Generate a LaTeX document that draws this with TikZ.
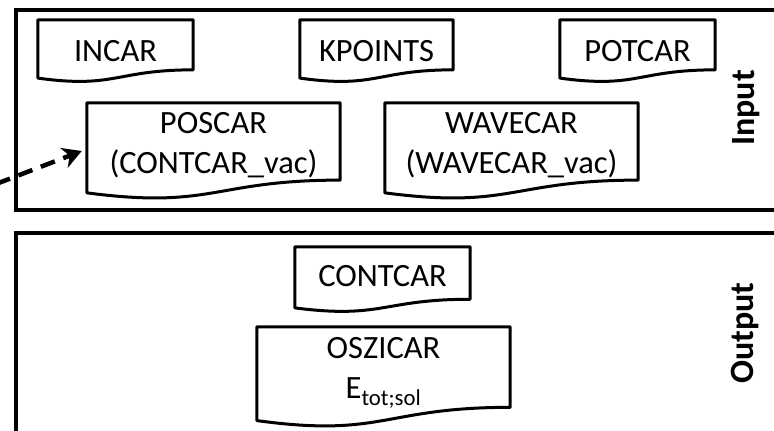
\documentclass[tikz,border=0pt]{standalone}
\usepackage{fontspec}
\setmainfont{Carlito}
\usetikzlibrary{calc,arrows.meta}
\begin{document}
\begin{tikzpicture}[x=1pt,y=-1pt,
  frame/.style={line width=4pt},
  docbox/.style={rectangle, inner sep=0pt, align=center,
    font=\fontsize{32.5}{40}\selectfont},
  lift/.style={text depth=#1},
  docline/.style={line width=3pt, line join=round},
  side/.style={font=\fontsize{34}{40}\selectfont\bfseries, rotate=90},
  feed/.style={line width=4.5pt, dash pattern=on 15pt off 9pt,
    -{Stealth[length=19pt,width=21pt,inset=6pt]}},
]
\clip (0,0) rectangle (774,431);
\fill[white] (0,0) rectangle (774,431);

% panels (they run past the right and lower edges)
\draw[frame] (16,10) rectangle (800,210);
\draw[frame] (16,233) rectangle (800,460);

% input files
\node[docbox, minimum width=155pt, minimum height=62pt] (incar)   at (115.5,51) {INCAR};
\node[docbox, minimum width=153pt, minimum height=62pt] (kpoints) at (376.5,51) {KPOINTS};
\node[docbox, minimum width=155pt, minimum height=62pt] (potcar)  at (637.5,51) {POTCAR};
\node[docbox, lift=17pt, minimum width=253pt, minimum height=96pt] (poscar)  at (213.5,151) {POSCAR\\(CONTCAR\_vac)};
\node[docbox, lift=17pt, minimum width=253pt, minimum height=96pt] (wavecar) at (511.5,151) {WAVECAR\\(WAVECAR\_vac)};

% output files
\node[docbox, lift=7pt, minimum width=175pt, minimum height=65pt] (contcar) at (382.5,279.5) {CONTCAR};
\node[docbox, lift=19pt, minimum width=253pt, minimum height=100pt] (oszicar) at (383.5,377) {OSZICAR\\E\textsubscript{tot;sol}};

% document outlines: flat top, wavy bottom
\foreach \n in {incar,kpoints,potcar,poscar,wavecar,contcar,oszicar}{
  \draw[docline] (\n.north west) -- (\n.north east)
    -- ($(\n.north east)!0.802!(\n.south east)$)
    .. controls ($(\n.north)!0.802!(\n.south)$) and ($(\n.north)!1.107!(\n.south)$)
    .. ($(\n.north west)!0.934!(\n.south west)$) -- cycle;
}

% panel titles
\node[side] (inlabel)  at (746,108) {Input};
\node[side] (outlabel) at (745,333) {Output};

% incoming structure
\coordinate (src) at (-4,184);
\draw[feed] (src) -- ([xshift=-5pt]poscar.west);
\end{tikzpicture}
\end{document}
